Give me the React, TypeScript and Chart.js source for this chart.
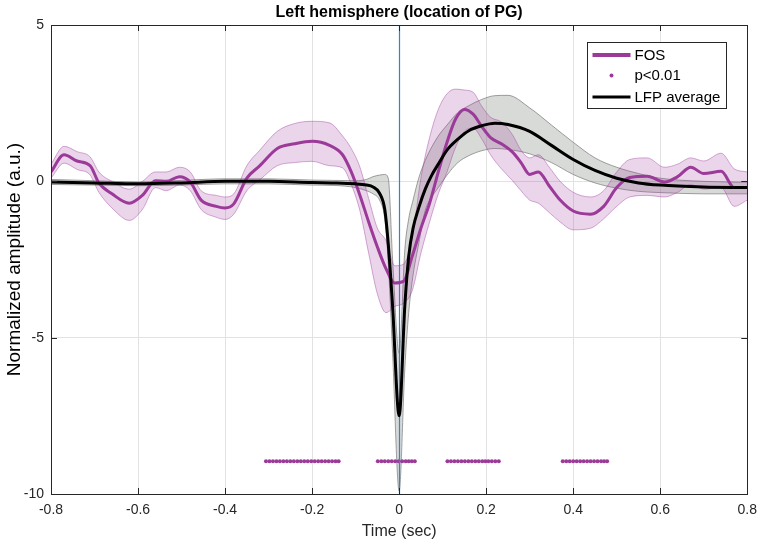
import React, { useEffect, useRef } from "react";
import { Chart, registerables } from "chart.js";

Chart.register(...registerables);

// ---------- data ----------
const TITLE = "Left hemisphere (location of PG)";
const X_LABEL = "Time (sec)";
const Y_LABEL = "Normalized amplitude (a.u.)";
const X_TICKS = [-0.8, -0.6, -0.4, -0.2, 0, 0.2, 0.4, 0.6, 0.8];
const Y_TICKS = [-10, -5, 0, 5];
const STIM_TIME = 0;

const FOS_T = [-0.8, -0.77, -0.74, -0.71, -0.69, -0.66, -0.62, -0.59, -0.56, -0.535, -0.505, -0.48, -0.455, -0.42, -0.4, -0.38, -0.35, -0.32, -0.28, -0.24, -0.2, -0.16, -0.13, -0.11, -0.09, -0.07, -0.05, -0.03, -0.01, 0.01, 0.03, 0.05, 0.07, 0.09, 0.11, 0.13, 0.15, 0.17, 0.19, 0.21, 0.235, 0.26, 0.28, 0.3, 0.32, 0.345, 0.37, 0.4, 0.44, 0.47, 0.5, 0.53, 0.57, 0.61, 0.64, 0.67, 0.7, 0.74, 0.77, 0.8];
const FOS_MEAN = [0.3, 0.85, 0.65, 0.5, -0.05, -0.4, -0.7, -0.45, 0.02, 0.0, 0.15, -0.02, -0.6, -0.8, -0.85, -0.72, 0.1, 0.5, 1.05, 1.2, 1.28, 1.15, 0.85, 0.3, -0.45, -1.3, -2.1, -2.8, -3.25, -3.2, -2.4, -1.5, -0.7, 0.3, 1.25, 2.0, 2.3, 2.15, 1.75, 1.4, 1.2, 0.94, 0.6, 0.22, 0.3, -0.15, -0.6, -0.95, -1.05, -0.8, -0.2, 0.12, 0.16, -0.02, 0.15, 0.45, 0.25, 0.32, -0.2, -0.2];
const FOS_UPPER = [0.55, 1.12, 0.95, 0.78, 0.3, 0.0, -0.25, 0.0, 0.3, 0.3, 0.45, 0.3, -0.3, -0.45, -0.5, -0.4, 0.5, 1.0, 1.6, 1.85, 1.92, 1.87, 1.45, 1.05, 0.45, -0.55, -1.5, -1.9, -2.7, -2.65, -1.8, 0.1, 1.4, 2.3, 2.8, 2.95, 2.92, 2.85, 2.4, 2.05, 1.9, 1.5, 1.0, 0.75, 0.85, 0.45, 0.0, -0.35, -0.5, -0.3, 0.3, 0.7, 0.75, 0.45, 0.55, 0.75, 0.65, 0.9, 0.4, 0.3];
const FOS_LOWER = [0.1, 0.58, 0.38, 0.2, -0.35, -0.85, -1.25, -0.9, -0.2, -0.3, -0.12, -0.3, -0.9, -1.15, -1.22, -1.05, -0.3, 0.05, 0.5, 0.6, 0.64, 0.5, 0.43, -0.1, -0.95, -2.3, -3.6, -4.2, -4.0, -3.9, -3.5, -2.3, -1.3, -0.4, 0.3, 1.1, 1.6, 1.7, 1.35, 0.85, 0.4, 0.03, -0.3, -0.6, -0.7, -1.0, -1.3, -1.55, -1.5, -1.2, -0.8, -0.5, -0.45, -0.5, -0.35, -0.1, -0.25, -0.2, -0.8, -0.6];

const LFP_T = [-0.8, -0.7, -0.6, -0.5, -0.4, -0.3, -0.2, -0.15, -0.1, -0.075, -0.06, -0.045, -0.033, -0.025, -0.015, 0, 0.013, 0.022, 0.032, 0.045, 0.06, 0.075, 0.09, 0.11, 0.135, 0.16, 0.19, 0.22, 0.25, 0.3, 0.35, 0.4, 0.45, 0.5, 0.55, 0.6, 0.7, 0.8];
const LFP_MEAN = [-0.02, -0.05, -0.08, -0.05, 0.0, 0.0, -0.04, -0.05, -0.08, -0.12, -0.18, -0.38, -0.9, -2.0, -4.0, -7.5, -4.0, -2.4, -1.5, -0.85, -0.25, 0.2, 0.55, 1.0, 1.35, 1.62, 1.78, 1.86, 1.82, 1.6, 1.15, 0.7, 0.35, 0.1, -0.05, -0.12, -0.18, -0.2];
const LFP_UPPER = [0.06, 0.02, -0.02, 0.03, 0.08, 0.08, 0.04, 0.03, 0.02, 0.06, 0.15, 0.2, 0.22, 0.1, -2.5, -5.5, -2.2, -1.2, -0.6, 0.1, 0.67, 1.1, 1.45, 1.8, 2.2, 2.42, 2.62, 2.74, 2.75, 2.35, 1.8, 1.25, 0.75, 0.45, 0.25, 0.1, 0.0, -0.03];
const LFP_LOWER = [-0.1, -0.12, -0.14, -0.12, -0.08, -0.08, -0.12, -0.13, -0.2, -0.3, -0.4, -0.6, -1.2, -2.6, -5.5, -9.9, -6.0, -4.2, -3.0, -2.0, -0.93, -0.5, -0.2, 0.2, 0.6, 0.82, 0.98, 1.05, 1.02, 0.88, 0.6, 0.22, -0.05, -0.22, -0.32, -0.36, -0.4, -0.4];

const SIG_T = [
  -0.306, -0.298, -0.29, -0.282, -0.274, -0.266, -0.258, -0.25, -0.242, -0.234, -0.226, -0.218, -0.21, -0.202, -0.194, -0.186, -0.178, -0.17, -0.162, -0.154, -0.146, -0.139,
  -0.049, -0.041, -0.033, -0.025, -0.017, -0.009, -0.001, 0.007, 0.015, 0.022, 0.029, 0.036,
  0.111, 0.119, 0.127, 0.135, 0.143, 0.151, 0.159, 0.167, 0.175, 0.183, 0.191, 0.198, 0.205, 0.213, 0.221, 0.229,
  0.376, 0.384, 0.392, 0.4, 0.408, 0.416, 0.424, 0.432, 0.44, 0.448, 0.456, 0.464, 0.471, 0.478,
];
const SIG_LEVEL = -8.95;

const LEGEND_LABELS = ["FOS", "p<0.01", "LFP average"];

// ---------- styles ----------
const FONT = "'Liberation Sans', Arial, Helvetica, sans-serif";
const FOS_COLOR = "#9B3A99";
const FOS_FILL = "rgba(160,62,158,0.22)";
const FOS_EDGE = "rgba(155,58,153,0.42)";
const LFP_COLOR = "#000000";
const LFP_FILL = "rgba(125,132,125,0.3)";
const LFP_EDGE = "rgba(110,110,110,0.65)";
const STIM_COLOR = "#2B88D0";
const AXIS_COLOR = "#262626";
const GRID_COLOR = "#E2E2E2";

const pts = (xs: number[], ys: number[]) => xs.map((x, i) => ({ x, y: ys[i] }));

const framePlugin = {
  id: "matlabFrame",
  afterDatasetDraw(chart: any, args: any) {
    // stimulus line above the shaded bands, below the mean traces
    if (args.index !== 2) return;
    const { ctx, chartArea, scales } = chart;
    const x = Math.round(scales.x.getPixelForValue(STIM_TIME)) + 0.5;
    ctx.save();
    ctx.strokeStyle = STIM_COLOR;
    ctx.lineWidth = 1.2;
    ctx.beginPath();
    ctx.moveTo(x, chartArea.top);
    ctx.lineTo(x, chartArea.bottom);
    ctx.stroke();
    ctx.restore();
  },
  afterDatasetsDraw(chart: any) {
    const { ctx, chartArea, scales } = chart;
    const { left, right, top, bottom } = chartArea;
    ctx.save();
    ctx.strokeStyle = AXIS_COLOR;
    ctx.lineWidth = 1;
    ctx.strokeRect(Math.round(left) + 0.5, Math.round(top) + 0.5, Math.round(right - left), Math.round(bottom - top));
    const tl = 6;
    ctx.beginPath();
    scales.x.ticks.forEach((t: any) => {
      const px = Math.round(scales.x.getPixelForValue(t.value)) + 0.5;
      ctx.moveTo(px, bottom);
      ctx.lineTo(px, bottom - tl);
      ctx.moveTo(px, top);
      ctx.lineTo(px, top + tl);
    });
    scales.y.ticks.forEach((t: any) => {
      const py = Math.round(scales.y.getPixelForValue(t.value)) + 0.5;
      ctx.moveTo(left, py);
      ctx.lineTo(left + tl, py);
      ctx.moveTo(right, py);
      ctx.lineTo(right - tl, py);
    });
    ctx.stroke();

    // legend
    const bw = 139, bh = 66;
    const bx = Math.round(right - 160) + 0.5;
    const by = Math.round(top + 17) + 0.5;
    ctx.fillStyle = "#ffffff";
    ctx.fillRect(bx, by, bw, bh);
    ctx.strokeStyle = AXIS_COLOR;
    ctx.lineWidth = 1;
    ctx.strokeRect(bx, by, bw, bh);
    const rows = [by + 12.5, by + 33, by + 54.5];
    const lx0 = bx + 5, lx1 = bx + 43, tx = bx + 47;
    ctx.strokeStyle = FOS_COLOR;
    ctx.lineWidth = 4;
    ctx.beginPath();
    ctx.moveTo(lx0, rows[0]);
    ctx.lineTo(lx1, rows[0]);
    ctx.stroke();
    ctx.fillStyle = FOS_COLOR;
    ctx.beginPath();
    ctx.arc((lx0 + lx1) / 2, rows[1], 2, 0, Math.PI * 2);
    ctx.fill();
    ctx.strokeStyle = LFP_COLOR;
    ctx.lineWidth = 3;
    ctx.beginPath();
    ctx.moveTo(lx0, rows[2]);
    ctx.lineTo(lx1, rows[2]);
    ctx.stroke();
    ctx.fillStyle = "#000000";
    ctx.font = `15px ${FONT}`;
    ctx.textBaseline = "middle";
    ctx.textAlign = "left";
    LEGEND_LABELS.forEach((lab, i) => ctx.fillText(lab, tx, rows[i] + 0.5));
    ctx.restore();
  },
};

export default function App() {
  const ref = useRef<HTMLCanvasElement | null>(null);
  useEffect(() => {
    if (!ref.current) return;
    const chart = new Chart(ref.current, {
      type: "line",
      data: {
        datasets: [
          {
            label: "LFP average",
            data: pts(LFP_T, LFP_MEAN),
            borderColor: LFP_COLOR,
            borderWidth: 3,
            pointRadius: 0,
            fill: false,
            cubicInterpolationMode: "monotone",
            order: 0,
          },
          {
            label: "FOS",
            data: pts(FOS_T, FOS_MEAN),
            borderColor: FOS_COLOR,
            borderWidth: 3,
            pointRadius: 0,
            fill: false,
            cubicInterpolationMode: "monotone",
            order: 1,
          },
          {
            label: "p<0.01",
            data: SIG_T.map((x) => ({ x, y: SIG_LEVEL })),
            showLine: false,
            pointRadius: 2,
            pointBackgroundColor: FOS_COLOR,
            pointBorderWidth: 0,
            borderColor: FOS_COLOR,
            order: 2,
          },
          {
            label: "FOS upper",
            data: pts(FOS_T, FOS_UPPER),
            borderColor: FOS_EDGE,
            borderWidth: 1,
            pointRadius: 0,
            backgroundColor: FOS_FILL,
            fill: "+1",
            cubicInterpolationMode: "monotone",
            order: 3,
          },
          {
            label: "FOS lower",
            data: pts(FOS_T, FOS_LOWER),
            borderColor: FOS_EDGE,
            borderWidth: 1,
            pointRadius: 0,
            fill: false,
            cubicInterpolationMode: "monotone",
            order: 3,
          },
          {
            label: "LFP upper",
            data: pts(LFP_T, LFP_UPPER),
            borderColor: LFP_EDGE,
            borderWidth: 1,
            pointRadius: 0,
            backgroundColor: LFP_FILL,
            fill: "+1",
            cubicInterpolationMode: "monotone",
            order: 4,
          },
          {
            label: "LFP lower",
            data: pts(LFP_T, LFP_LOWER),
            borderColor: LFP_EDGE,
            borderWidth: 1,
            pointRadius: 0,
            fill: false,
            cubicInterpolationMode: "monotone",
            order: 4,
          },
        ],
      },
      options: {
        animation: false,
        responsive: false,
        maintainAspectRatio: false,
        events: [],
        layout: { padding: { left: 0, right: 15, top: 0, bottom: 0 } },
        plugins: {
          legend: { display: false },
          tooltip: { enabled: false },
          title: {
            display: true,
            fullSize: false,
            text: TITLE,
            color: "#000000",
            font: { family: FONT, size: 16, weight: "bold" },
            padding: { top: 2.5, bottom: 3.3 },
          },
        },
        scales: {
          x: {
            type: "linear",
            min: X_TICKS[0],
            max: X_TICKS[X_TICKS.length - 1],
            afterBuildTicks: (s: any) => {
              s.ticks = X_TICKS.map((v) => ({ value: v }));
            },
            afterFit: (s: any) => {
              s.height = 50;
            },
            ticks: {
              autoSkip: false,
              maxRotation: 0,
              padding: 8,
              color: AXIS_COLOR,
              font: { family: FONT, size: 14 },
              callback: (v: any) => String(v),
            },
            grid: { color: GRID_COLOR, drawTicks: false },
            border: { display: false },
            title: {
              display: true,
              text: X_LABEL,
              color: AXIS_COLOR,
              font: { family: FONT, size: 16 },
              padding: { top: 0, bottom: 3 },
            },
          },
          y: {
            type: "linear",
            min: Y_TICKS[0],
            max: Y_TICKS[Y_TICKS.length - 1],
            afterBuildTicks: (s: any) => {
              s.ticks = Y_TICKS.map((v) => ({ value: v }));
            },
            afterFit: (s: any) => {
              s.width = 51;
            },
            ticks: {
              padding: 7,
              color: AXIS_COLOR,
              font: { family: FONT, size: 14 },
              callback: (v: any) => String(v),
            },
            grid: { color: GRID_COLOR, drawTicks: false },
            border: { display: false },
            title: {
              display: true,
              text: Y_LABEL,
              color: "#000000",
              font: { family: FONT, size: 19 },
              padding: { top: 3, bottom: 0 },
            },
          },
        },
      },
      plugins: [framePlugin],
    } as any);
    return () => chart.destroy();
  }, []);

  return (
    <div style={{ position: "fixed", left: 0, top: 0, width: 765, height: 544, background: "#ffffff" }}>
      <canvas ref={ref} width={765} height={544} style={{ display: "block", width: 765, height: 544 }} />
    </div>
  );
}
